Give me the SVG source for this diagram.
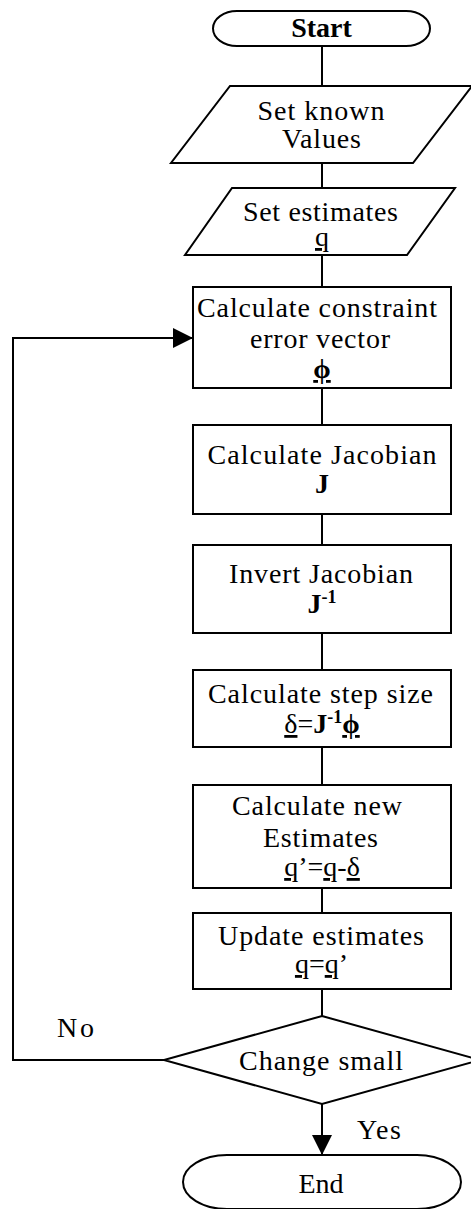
<svg xmlns="http://www.w3.org/2000/svg" width="471" height="1209" viewBox="0 0 471 1209">
<style>
.s{fill:#fff;stroke:#000;stroke-width:2}
.c{fill:none;stroke:#000;stroke-width:2}
text{font-family:"Liberation Serif","Times New Roman","DejaVu Serif",serif;font-size:28px;fill:#000;text-anchor:middle}
.u{text-decoration:underline}
.b{font-weight:bold}
</style>
<defs>
<marker id="ah" markerUnits="userSpaceOnUse" markerWidth="20" markerHeight="20" refX="18" refY="9" orient="auto" viewBox="0 0 18 18">
<path d="M0,0 L18,9 L0,18 z" fill="#000"/>
</marker>
</defs>
<g id="connectors">
<line class="c" x1="322" y1="46" x2="322" y2="86"/>
<line class="c" x1="322" y1="163" x2="322" y2="188"/>
<line class="c" x1="322" y1="255" x2="322" y2="287"/>
<line class="c" x1="322" y1="388" x2="322" y2="425"/>
<line class="c" x1="322" y1="514" x2="322" y2="545"/>
<line class="c" x1="322" y1="633" x2="322" y2="670"/>
<line class="c" x1="322" y1="747" x2="322" y2="785"/>
<line class="c" x1="322" y1="888" x2="322" y2="913"/>
<line class="c" x1="322" y1="989" x2="322" y2="1016"/>
<line class="c" x1="322" y1="1104" x2="322" y2="1155" marker-end="url(#ah)"/>
<polyline class="c" points="164,1060 13,1060 13,338 193,338" marker-end="url(#ah)"/>
<text x="57" y="1037" style="text-anchor:start" textLength="37">No</text>
<text x="357" y="1139" style="text-anchor:start" textLength="44">Yes</text>
</g>
<g id="start">
<rect class="s" x="213" y="11" width="217" height="35" rx="24" ry="17.5"/>
<text class="b" x="321.5" y="37">Start</text>
</g>
<g id="known">
<polygon class="s" points="230,86 472,86 413,163 171,163"/>
<text x="321" y="120" textLength="127">Set known</text>
<text x="321.5" y="148" textLength="79">Values</text>
</g>
<g id="estimates">
<polygon class="s" points="232,188 455,188 407,255 185,255"/>
<text x="320.5" y="221" textLength="155">Set estimates</text>
<text x="322" y="246"><tspan class="u">q</tspan></text>
</g>
<g id="constraint">
<rect class="s" x="193" y="287" width="258" height="101"/>
<text x="317" y="317" textLength="240">Calculate constraint</text>
<text x="320" y="348" textLength="140">error vector</text>
<text class="b" x="322" y="378"><tspan class="u">ϕ</tspan></text>
</g>
<g id="jacobian">
<rect class="s" x="193" y="425" width="258" height="89"/>
<text x="322" y="464" textLength="229">Calculate Jacobian</text>
<text class="b" x="322" y="493">J</text>
</g>
<g id="invert">
<rect class="s" x="193" y="545" width="258" height="88"/>
<text x="321" y="583" textLength="184">Invert Jacobian</text>
<text x="322" y="613"><tspan class="b">J</tspan><tspan class="b" dy="-10" style="font-size:18px">-1</tspan></text>
</g>
<g id="step">
<rect class="s" x="193" y="670" width="258" height="77"/>
<text x="320.5" y="703" textLength="225">Calculate step size</text>
<text x="322" y="733"><tspan class="u">δ</tspan>=<tspan class="b">J</tspan><tspan class="b" dy="-10" style="font-size:18px">-1</tspan><tspan class="u b" dy="10">ϕ</tspan></text>
</g>
<g id="newest">
<rect class="s" x="193" y="785" width="258" height="103"/>
<text x="317" y="815" textLength="170">Calculate new</text>
<text x="320.5" y="847" textLength="115">Estimates</text>
<text x="322" y="876"><tspan class="u">q</tspan>’=<tspan class="u">q</tspan>-<tspan class="u">δ</tspan></text>
</g>
<g id="update">
<rect class="s" x="193" y="913" width="258" height="76"/>
<text x="321" y="945" textLength="206">Update estimates</text>
<text x="321.5" y="973"><tspan class="u">q</tspan>=<tspan class="u">q</tspan>’</text>
</g>
<g id="decision">
<polygon class="s" points="322,1016 480,1060 322,1104 164,1060"/>
<text x="321" y="1070" textLength="164">Change small</text>
</g>
<g id="end">
<rect class="s" x="183" y="1155" width="278" height="54" rx="44" ry="27"/>
<text x="321" y="1193">End</text>
</g>
</svg>
